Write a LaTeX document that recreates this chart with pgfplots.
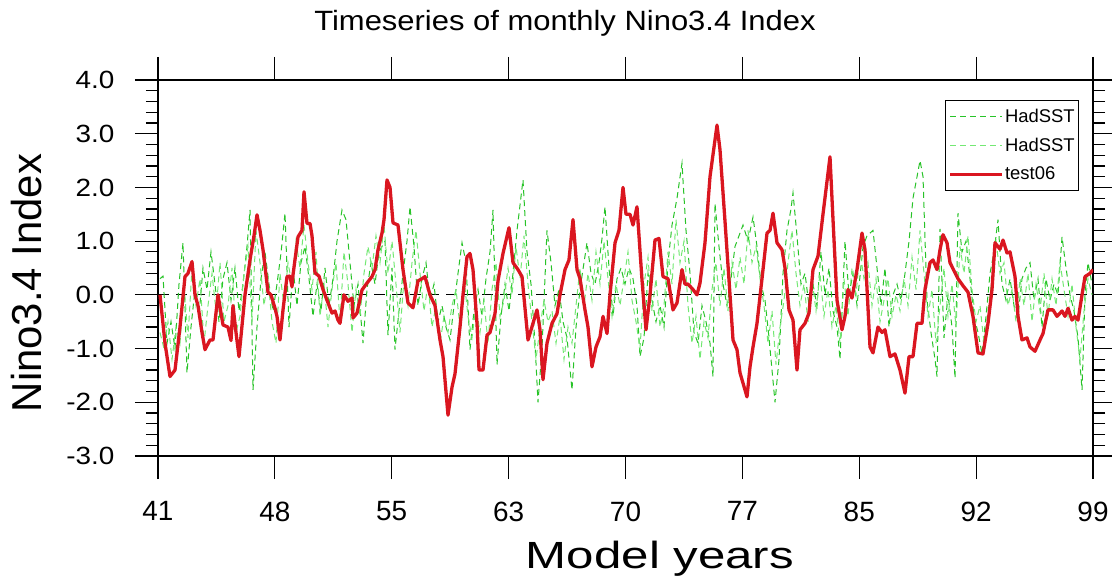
\documentclass[border=0pt]{standalone}
\usepackage{pgfplots}
\pgfplotsset{compat=1.18}
\usepackage{pgfplotstable}
\usepackage{graphicx}
\usepackage{fontspec}
\setmainfont{Liberation Sans}
\definecolor{redline}{RGB}{218,22,32}
\definecolor{gA}{RGB}{40,195,40}
\definecolor{gB}{RGB}{115,232,115}
\newcommand{\hs}[1]{\scalebox{1.12}[1]{#1}}
\newcommand{\ts}[1]{\scalebox{1.11}[1]{#1}}

% x = horizontal position (px), y = index value
\pgfplotstableread{
x y
160 0.0
165 -0.9
170 -1.52
175 -1.4
180 -0.6
185 0.34
188 0.4
192 0.62
195 0.0
198 -0.2
202 -0.7
205 -1.02
210 -0.84
213 -0.84
218 0.0
223 -0.56
228 -0.6
231 -0.85
233 -0.2
236 -0.7
239 -1.15
245 0.0
250 0.65
254 1.1
257 1.49
260 1.2
263 0.84
268 0.05
271 0.0
275 -0.25
277 -0.4
280 -0.84
283 -0.28
287 0.34
290 0.35
292 0.15
293 0.37
298 1.08
302 1.2
304 1.92
307 1.33
310 1.33
312 1.1
315 0.41
319 0.35
323 0.1
327 -0.1
332 -0.34
335 -0.3
338 -0.47
340 -0.53
344 0.0
348 -0.12
352 -0.06
353 -0.43
357 -0.34
362 0.09
367 0.22
372 0.34
375 0.47
378 0.84
382 1.15
384 1.4
387 2.14
390 2.0
393 1.34
398 1.3
403 0.47
408 -0.15
413 -0.24
418 0.26
422 0.3
425 0.34
430 0.0
435 -0.2
440 -0.84
443 -1.15
448 -2.24
452 -1.72
455 -1.47
460 -0.6
463 0.0
467 0.71
470 0.77
473 0.47
477 -0.53
479 -1.4
483 -1.4
487 -0.75
490 -0.7
495 -0.35
498 0.26
503 0.77
509 1.25
513 0.6
518 0.47
522 0.34
528 -0.84
533 -0.53
537 -0.28
540 -0.65
543 -1.58
547 -0.9
552 -0.53
557 -0.35
560 0.0
565 0.47
569 0.65
573 1.4
577 0.47
580 0.3
585 -0.28
588 -0.6
592 -1.34
596 -0.97
600 -0.78
603 -0.4
607 -0.72
610 0.0
615 0.97
619 1.2
623 2.0
626 1.5
630 1.5
633 1.3
637 1.64
642 0.28
646 -0.65
650 0.0
655 1.02
659 1.05
663 0.34
668 0.3
673 -0.28
677 -0.15
682 0.47
685 0.2
688 0.2
693 0.1
697 0.0
700 0.22
705 0.97
710 2.2
717 3.16
720 2.7
725 1.37
730 0.0
733 -0.84
737 -1.02
740 -1.45
747 -1.9
750 -1.34
753 -0.97
757 -0.53
763 0.47
767 1.15
770 1.2
773 1.52
777 0.97
782 0.84
785 0.5
789 -0.28
793 -0.47
797 -1.4
800 -0.65
805 -0.53
809 -0.34
813 0.47
818 0.72
823 1.5
830 2.57
833 1.4
837 -0.1
842 -0.65
845 -0.4
848 0.1
852 -0.06
857 0.47
862 1.15
865 0.84
870 -0.97
873 -1.08
878 -0.6
882 -0.7
885 -0.65
890 -1.15
895 -1.1
900 -1.4
905 -1.83
909 -1.15
913 -1.15
917 -0.53
922 -0.53
925 0.1
930 0.6
933 0.65
937 0.47
940 0.84
943 1.12
947 0.97
950 0.6
955 0.41
958 0.3
963 0.17
968 0.05
973 -0.4
978 -1.08
983 -1.1
988 -0.53
992 0.1
995 0.97
1000 0.85
1003 1.02
1007 0.78
1010 0.8
1015 0.34
1018 -0.4
1022 -0.84
1027 -0.8
1030 -0.97
1035 -1.05
1040 -0.84
1043 -0.72
1048 -0.28
1053 -0.28
1057 -0.4
1062 -0.3
1065 -0.4
1068 -0.25
1072 -0.47
1075 -0.4
1078 -0.47
1082 0.0
1085 0.34
1090 0.4
1093 0.47
}\redtab

\pgfplotstableread{
x y
160 0.3
163 0.35
167 -0.9
171 -0.5
175 -1.0
179 0.2
183 0.97
187 -1.45
191 -0.6
195 0.1
199 -0.4
203 0.5
207 0.1
211 0.8
215 0.2
219 -0.5
223 0.3
227 0.6
231 -0.1
235 0.5
239 -0.3
243 0.2
247 0.9
250 1.58
253 -1.77
257 -0.6
261 0.3
265 0.8
269 0.2
273 -0.3
277 0.2
281 0.78
285 1.52
289 -0.6
293 0.5
297 -0.2
301 0.6
305 0.9
309 0.3
313 -0.4
317 0.2
321 -0.3
325 0.5
329 -0.2
333 0.3
337 1.0
342 1.58
346 1.4
350 0.6
354 -0.2
358 0.2
363 -0.9
367 0.1
371 0.6
375 0.2
379 0.8
385 1.0
388 -0.75
392 0.5
395 -1.02
399 -0.3
403 0.4
407 1.0
410 1.64
414 0.9
418 -0.2
422 0.3
426 0.6
430 -0.1
434 0.2
438 -0.5
442 -0.2
446 -0.6
450 -0.84
454 -0.2
458 0.4
462 0.97
466 0.6
470 -1.02
474 -0.3
478 0.1
482 -0.4
486 0.3
490 0.8
493 1.58
497 -1.3
501 -0.4
505 0.2
509 -0.3
513 0.4
517 1.2
523 2.14
527 0.8
531 0.2
535 -0.9
538 -2.0
542 -1.0
547 1.2
551 0.6
555 -0.2
559 0.1
563 -0.5
567 -0.8
572 -1.77
576 -0.6
580 0.1
584 0.6
587 0.97
591 0.4
595 0.2
599 0.6
602 1.05
605 1.64
609 0.5
613 -0.4
617 0.3
621 0.5
625 0.2
629 0.5
633 0.3
637 -0.2
640 -1.15
644 -0.8
648 0.4
652 -0.1
656 -0.5
660 -0.2
664 -0.6
668 0.6
672 1.3
677 1.8
682 2.45
686 1.2
690 0.4
694 -0.7
698 -0.9
702 -0.2
706 -0.5
710 -0.9
713 -1.52
715 1.7
719 0.9
723 0.2
727 -0.2
731 0.3
735 0.9
739 1.1
743 1.3
748 1.0
753 1.45
757 0.9
761 0.2
765 -0.1
769 -0.8
775 -2.0
779 -1.2
783 0.4
787 1.2
791 1.6
793 1.9
797 1.1
801 0.2
805 0.4
809 -0.2
813 0.2
817 -0.2
821 0.8
825 0.0
829 0.5
833 -0.3
837 -0.6
840 -1.2
845 1.0
849 0.0
853 0.4
857 -0.2
863 0.9
867 1.1
873 1.2
877 0.5
881 -0.2
885 0.5
889 -0.6
893 0.0
897 0.2
901 -0.1
905 0.4
909 1.0
913 1.8
917 2.2
920 2.5
923 2.2
927 -0.1
931 -0.7
935 -1.2
937 -1.52
940 1.23
944 -0.8
948 0.0
952 -0.6
955 -1.55
958 1.52
962 0.8
966 1.0
970 0.3
974 -0.4
978 -0.7
982 -1.1
986 -0.4
990 0.4
994 0.8
998 1.4
1002 0.2
1006 -0.1
1010 0.3
1014 -0.2
1018 -0.4
1022 0.3
1026 0.5
1030 0.6
1034 -0.1
1038 0.3
1042 -0.6
1046 0.3
1050 -0.1
1054 0.2
1058 0.0
1062 1.08
1066 0.5
1070 0.0
1074 -0.3
1078 -0.8
1082 -1.77
1085 0.0
1088 0.6
1092 0.2
}\greenA

\pgfplotstableread{
x y
160 -0.7
164 -1.0
168 -0.5
172 -1.2
176 -0.6
180 -0.9
184 0.2
188 -0.8
192 0.5
196 -0.2
200 0.3
204 -0.9
208 -0.2
212 0.4
216 -0.3
220 0.6
224 -0.5
228 -0.2
232 0.5
236 -0.7
240 -0.4
244 0.4
248 0.9
252 -0.5
256 1.2
260 0.6
264 -0.2
268 0.3
272 -0.5
276 -0.9
280 0.4
284 -0.2
288 0.6
292 0.2
296 1.0
300 0.5
304 1.3
308 0.6
312 0.1
316 0.8
320 -0.4
324 0.2
328 -0.6
332 0.1
336 0.6
340 -0.5
344 0.8
348 0.2
352 -0.7
356 0.1
360 -0.4
364 0.4
368 0.9
372 0.5
376 1.1
380 0.6
384 1.3
388 0.4
392 1.0
396 0.2
400 -0.7
404 0.3
408 -0.2
412 0.6
416 1.2
420 0.4
424 -0.3
428 0.2
432 -0.6
436 -0.2
440 -0.9
444 -0.4
448 -0.7
452 -0.2
456 0.1
460 -0.6
464 0.3
468 -0.4
472 -0.8
476 -0.2
480 -0.7
484 -0.1
488 -0.9
492 0.1
496 0.6
500 -0.4
504 -0.1
508 0.5
512 0.0
516 0.9
520 0.3
524 1.1
528 0.2
532 -0.5
536 -1.2
540 -0.6
544 -0.1
548 -0.5
552 -0.3
556 -0.9
560 -0.4
564 -1.2
568 -0.6
572 -0.9
576 -0.2
580 0.5
584 -0.2
588 0.4
592 -0.1
596 0.8
600 0.2
604 1.0
608 0.3
612 -0.4
616 0.2
620 -0.2
624 0.3
628 0.8
632 -0.1
636 -0.5
640 -1.0
644 0.2
648 0.7
652 -0.3
656 0.3
660 -0.6
664 -0.2
668 0.8
672 0.2
676 1.4
680 0.6
684 1.0
688 -0.2
692 -0.9
696 -0.4
700 -1.2
704 -0.5
708 -0.8
712 0.1
716 0.6
720 -0.2
724 0.5
728 -0.3
732 0.6
736 0.1
740 0.7
744 0.2
748 1.2
752 0.6
756 0.9
760 0.3
764 -0.2
768 -0.9
772 -0.3
776 -1.3
780 -0.6
784 -0.1
788 0.6
792 1.2
796 0.4
800 -0.2
804 0.2
808 -0.5
812 0.3
816 -0.3
820 0.4
824 -0.4
828 0.1
832 -0.6
836 -0.2
840 -0.9
844 0.3
848 -0.4
852 0.5
856 0.0
860 0.8
864 0.3
868 0.6
872 -0.2
876 0.3
880 -0.5
884 -0.1
888 0.3
892 -0.4
896 0.0
900 -0.3
904 0.3
908 -0.2
912 0.7
916 0.1
920 1.2
924 0.4
928 -0.4
932 0.1
936 -0.9
940 -0.2
944 0.5
948 -0.4
952 0.2
956 -0.6
960 0.9
964 0.4
968 1.1
972 0.1
976 -0.5
980 -0.2
984 -0.9
988 -0.3
992 0.3
996 1.0
1000 0.4
1004 0.6
1008 -0.2
1012 0.1
1016 -0.5
1020 0.3
1024 -0.2
1028 0.4
1032 -0.5
1036 0.2
1040 -0.3
1044 0.4
1048 -0.4
1052 0.3
1056 -0.2
1060 0.6
1064 0.1
1068 -0.4
1072 0.2
1076 -0.6
1080 -1.2
1084 -0.3
1088 0.3
1092 0.0
}\greenB

\begin{document}
\begin{tikzpicture}
\begin{axis}[
  scale only axis,
  width=935bp, height=376bp,
  xmin=41, xmax=99, ymin=-3, ymax=4,
  xtick={41,48.25,55.5,62.75,70,77.25,84.5,91.75,99},
  xticklabels={41,48,55,63,70,77,85,92,99},
  ytick={-3,-2,-1,0,1,2,3,4},
  yticklabels={\hs{-3.0},\hs{-2.0},\hs{-1.0},\hs{0.0},\hs{1.0},\hs{2.0},\hs{3.0},\hs{4.0}},
  minor y tick num=4,
  tick align=outside,
  major tick length=23bp, minor tick length=12bp,
  every tick/.style={black, line width=1.2bp},
  axis line style={line width=1.5bp},
  xticklabel style={font=\fontsize{28}{28}\selectfont, yshift=-19bp},
  yticklabel style={font=\fontsize{25}{25}\selectfont, xshift=-17bp},
  legend style={at={(0.842,0.947)}, anchor=north west, draw=black, line width=1bp,
    font=\fontsize{18.5}{18.5}\selectfont, inner xsep=3bp, inner ysep=8bp,
    row sep=12bp, nodes={inner sep=1bp}},
  legend cell align=left,
  legend image code/.code={\draw[#1] (0bp,0bp) -- (52bp,0bp);},
]
\coordinate (sw) at (rel axis cs:0,0);
\coordinate (ne) at (rel axis cs:1,1);
\addplot[black, line width=1bp, dash pattern=on 11bp off 7bp, forget plot] coordinates {(41,0) (99,0)};
\addplot[gA, line width=1bp, dash pattern=on 6bp off 4bp] table[x expr={41+(\thisrow{x}-158)*58/935}, y=y] {\greenA};
\addlegendentry{HadSST}
\addplot[gB, line width=1bp, dash pattern=on 6bp off 4bp] table[x expr={41+(\thisrow{x}-158)*58/935}, y=y] {\greenB};
\addlegendentry{HadSST}
\addplot[redline, line width=3.3bp, line join=round] table[x expr={41+(\thisrow{x}-158)*58/935}, y=y] {\redtab};
\addlegendentry{test06}
\end{axis}
\node[anchor=base, font=\fontsize{28}{28}\selectfont] at ([shift={(407bp,425bp)}]sw) {\ts{Timeseries of monthly Nino3.4 Index}};
\node[anchor=base, font=\fontsize{38}{38}\selectfont] at ([shift={(502bp,-112bp)}]sw) {\scalebox{1.3}[1]{Model years}};
\node[anchor=base, rotate=90, font=\fontsize{42}{42}\selectfont] at ([shift={(-116bp,173bp)}]sw) {Nino3.4 Index};
\pgfresetboundingbox
\path[use as bounding box] ([shift={(-158bp,-125bp)}]sw) rectangle ([shift={(19bp,80bp)}]ne);
\end{tikzpicture}
\end{document}
